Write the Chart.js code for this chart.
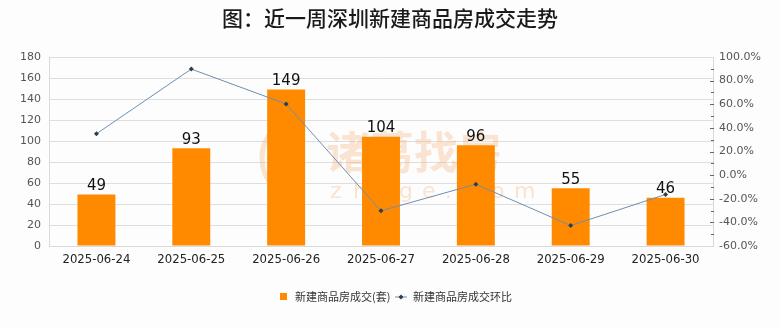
<!DOCTYPE html>
<html>
<head>
<meta charset="utf-8">
<script src="https://cdn.jsdelivr.net/npm/chart.js@4"></script>
<style>
  html, body { margin: 0; padding: 0; background: #fdfdfd; }
  #wrap { width: 780px; height: 328px; position: relative; }
</style>
</head>
<body>
<div id="wrap"><canvas id="c" width="780" height="328"></canvas></div>
<script>
const categories = ['2025-06-24','2025-06-25','2025-06-26','2025-06-27','2025-06-28','2025-06-29','2025-06-30'];
const deals = [49, 93, 149, 104, 96, 55, 46];
const changePct = [35.0, 89.8, 60.2, -30.2, -7.7, -42.7, -16.4];
const leftTicks = [0, 20, 40, 60, 80, 100, 120, 140, 160, 180];
const rightTicks = [-60, -40, -20, 0, 20, 40, 60, 80, 100];
const titleText = '图：近一周深圳新建商品房成交走势';
const seriesNames = ['新建商品房成交(套)', '新建商品房成交环比'];

const CJK = '"Noto Sans CJK SC", "Noto Sans", sans-serif';
const BAR = '#FF8A00';
const LINE = '#6F8FB0';

const decor = {
  id: 'decor',
  beforeDraw(chart) {
    const ctx = chart.ctx;
    ctx.save();
    ctx.fillStyle = '#fdfdfd';
    ctx.fillRect(0, 0, chart.width, chart.height);
    // title
    ctx.fillStyle = '#1a1a1a';
    ctx.font = '500 21px ' + CJK;
    ctx.textAlign = 'center';
    ctx.textBaseline = 'middle';
    ctx.fillText(titleText, 390, 18);
    // legend
    ctx.font = '11px ' + CJK;
    ctx.textAlign = 'left';
    ctx.fillStyle = BAR;
    ctx.fillRect(280, 293, 7, 7);
    ctx.fillStyle = '#333';
    ctx.fillText(seriesNames[0], 295, 297);
    ctx.strokeStyle = LINE;
    ctx.lineWidth = 1;
    ctx.beginPath(); ctx.moveTo(395, 297); ctx.lineTo(407, 297); ctx.stroke();
    ctx.fillStyle = '#2f3d4c';
    ctx.beginPath(); ctx.moveTo(401, 294.5); ctx.lineTo(403.5, 297); ctx.lineTo(401, 299.5); ctx.lineTo(398.5, 297); ctx.closePath(); ctx.fill();
    ctx.fillStyle = '#333';
    ctx.fillText(seriesNames[1], 413, 297);
    ctx.restore();
  },
  beforeDatasetsDraw(chart) {
    const ctx = chart.ctx;
    ctx.save();
    ctx.globalAlpha = 0.35;
    ctx.fillStyle = '#F3B27A';
    ctx.strokeStyle = '#F3B27A';
    // logo
    ctx.lineWidth = 5;
    ctx.beginPath(); ctx.ellipse(282, 158, 20, 30, 0, 0, Math.PI * 2); ctx.stroke();
    ctx.beginPath(); ctx.ellipse(282, 158, 7, 22, 0, 0, Math.PI * 2); ctx.fill();
    ctx.font = 'bold 44px ' + CJK;
    ctx.textAlign = 'left';
    ctx.textBaseline = 'middle';
    ctx.fillText('诸葛找房', 326, 152);
    ctx.font = '22px "DejaVu Sans", sans-serif';
    const s = 'zhuge.com';
    for (let i = 0; i < s.length; i++) ctx.fillText(s[i], 330 + i * 23, 192);
    ctx.restore();
  },
  afterDraw(chart) {
    // minor tick marks on right axis
    const y2 = chart.scales.y2;
    const ctx = chart.ctx;
    ctx.save();
    ctx.strokeStyle = '#666';
    ctx.lineWidth = 1;
    for (let v = -50; v <= 90; v += 20) {
      const y = Math.round(y2.getPixelForValue(v)) + 0.5;
      ctx.beginPath(); ctx.moveTo(711, y); ctx.lineTo(714, y); ctx.stroke();
    }
    for (let v = -40; v <= 80; v += 20) {
      const y = Math.round(y2.getPixelForValue(v)) + 0.5;
      ctx.beginPath(); ctx.moveTo(710, y); ctx.lineTo(714, y); ctx.stroke();
    }
    ctx.restore();
  }
};

const barLabels = {
  id: 'barLabels',
  afterDatasetsDraw(chart) {
    const ctx = chart.ctx;
    const meta = chart.getDatasetMeta(1);
    ctx.save();
    ctx.fillStyle = '#111';
    ctx.font = '15px "DejaVu Sans", sans-serif';
    ctx.textAlign = 'center';
    ctx.textBaseline = 'bottom';
    meta.data.forEach((el, i) => {
      ctx.fillText(String(deals[i]), el.x, el.y - 1);
    });
    ctx.restore();
  }
};

new Chart(document.getElementById('c'), {
  data: {
    labels: categories,
    datasets: [
      {
        type: 'line',
        label: seriesNames[1],
        data: changePct,
        yAxisID: 'y2',
        borderColor: LINE,
        borderWidth: 1,
        pointStyle: 'rectRot',
        pointRadius: 2.5,
        pointBackgroundColor: '#2f3d4c',
        pointBorderColor: '#2f3d4c',
        pointBorderWidth: 0,
        tension: 0,
        order: 0
      },
      {
        type: 'bar',
        label: seriesNames[0],
        data: deals,
        yAxisID: 'y',
        backgroundColor: BAR,
        barPercentage: 0.4,
        categoryPercentage: 1.0,
        order: 1
      }
    ]
  },
  options: {
    responsive: false,
    animation: false,
    events: [],
    layout: { padding: { top: 57, bottom: 0, left: 0, right: 0 } },
    plugins: {
      legend: { display: false },
      title: { display: false },
      tooltip: { enabled: false }
    },
    scales: {
      x: {
        grid: { display: false, drawTicks: false },
        border: { display: true, color: '#d9d9d9' },
        ticks: { color: '#222', font: { size: 13, family: '"Liberation Sans Narrow", "DejaVu Sans Condensed", sans-serif' }, padding: 6, maxRotation: 0, autoSkip: false },
        afterFit(s) { s.height = 82; }
      },
      y: {
        position: 'left',
        min: 0, max: 180,
        afterBuildTicks(s) { s.ticks = leftTicks.map(v => ({ value: v })); },
        grid: { color: '#dedede', drawTicks: false },
        border: { display: true, color: '#d9d9d9' },
        ticks: { color: '#555', font: { size: 11, family: '"DejaVu Sans", sans-serif' }, padding: 8 },
        afterFit(s) { s.width = 49; }
      },
      y2: {
        position: 'right',
        min: -60, max: 100,
        afterBuildTicks(s) { s.ticks = rightTicks.map(v => ({ value: v })); },
        grid: { drawOnChartArea: false, drawTicks: false },
        border: { display: true, color: '#d9d9d9' },
        ticks: { color: '#555', font: { size: 11, family: '"DejaVu Sans", sans-serif' }, padding: 6, callback: v => v.toFixed(1) + '%' },
        afterFit(s) { s.width = 67; }
      }
    }
  },
  plugins: [decor, barLabels]
});
</script>
</body>
</html>
